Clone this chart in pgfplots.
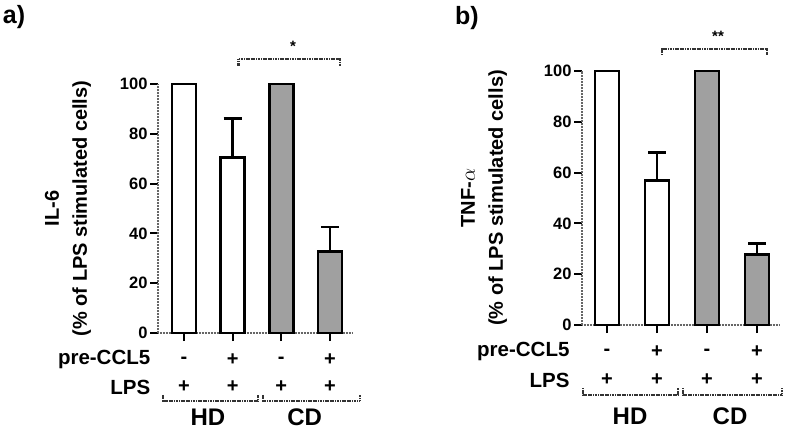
\documentclass[border=0pt]{standalone}
\usepackage{fontspec}
\setmainfont{Liberation Sans}
\usepackage{pgfplots}
\pgfplotsset{compat=1.18}
\definecolor{barg}{RGB}{160,160,160}
\tikzset{
  lbl/.style={font=\bfseries\fontsize{20.5}{20.5}\selectfont},
  sgn/.style={font=\bfseries\fontsize{20}{20}\selectfont},
  grp/.style={font=\bfseries\fontsize{24}{24}\selectfont},
}
\pgfplotsset{
  panel/.style={
    scale only axis, clip=false,
    axis lines=left, axis line style={-, line width=2.6pt, black!60, dash pattern=on 1pt off 0.5pt},
    ymin=0, ymax=100, ytick={0,20,...,100},
    xtick={1,2,3,4}, xticklabels={},
    tick align=outside, major tick length=8pt,
    tick style={line width=2pt, black},
    /pgf/number format/assume math mode=true,
    yticklabel style={font=\bfseries\fontsize{16.5}{16.5}\selectfont, xshift=1pt},
    ylabel style={font=\bfseries\fontsize{20}{28}\selectfont, align=center, anchor=center, rotate=0},
  },
  bar/.style={ybar, bar shift=0pt, bar width=24pt, draw=black, line width=2.8pt},
  err/.style={error bars/.cd, y dir=plus, y explicit, error mark=-,
    error bar style={line width=2.8pt, black},
    error mark options={rotate=90, line width=2.8pt, mark size=9pt, black}},
  brk/.style={line width=2.2pt, black!80, dash pattern=on 1.2pt off 0.5pt},
}
\begin{document}
\begin{tikzpicture}
\path[use as bounding box] (0,0) rectangle (787pt,-433pt);
\node[font=\bfseries\fontsize{25}{25}\selectfont] at (14pt,-17pt) {a)};
\node[font=\bfseries\fontsize{25}{25}\selectfont] at (467pt,-18pt) {b)};
% Panel a
\begin{axis}[panel, at={(158pt,-333pt)}, anchor=south west,
  width=195pt, height=249pt, xmin=0.466, xmax=4.473,
  ylabel={IL-6\\(\% of LPS stimulated cells)},
  ylabel style={at={(axis description cs:0,0.5)}, yshift=90pt}]
\addplot[bar, fill=white] coordinates {(1,100)};
\addplot[bar, fill=white, err] coordinates {(2,70.5) +- (0,15.5)};
\addplot[bar, fill=barg] coordinates {(3,100)};
\addplot[bar, fill=barg, err] coordinates {(4,32.8) +- (0,9.8)};
\addplot[brk] coordinates {(2.12,107.4) (2.12,110) (4.2,110) (4.2,107.4)};
\node[font=\bfseries\fontsize{15}{15}\selectfont] at (axis cs:3.24,115.3) {*};
\node[lbl, anchor=east] at (axis cs:0.38,-10.8) {pre-CCL5};
\node[lbl, anchor=east] at (axis cs:0.38,-21.7) {LPS};
\node[sgn] at (axis cs:1,-10.8) {-};
\node[sgn] at (axis cs:2,-10.8) {+};
\node[sgn] at (axis cs:3,-10.8) {-};
\node[sgn] at (axis cs:4,-10.8) {+};
\node[sgn] at (axis cs:1,-21.7) {+};
\node[sgn] at (axis cs:2,-21.7) {+};
\node[sgn] at (axis cs:3,-21.7) {+};
\node[sgn] at (axis cs:4,-21.7) {+};
\addplot[brk] coordinates {(0.57,-24.8) (0.57,-27.3) (2.52,-27.3) (2.52,-24.8)};
\addplot[brk] coordinates {(2.62,-24.8) (2.62,-27.3) (4.62,-27.3) (4.62,-24.8)};
\node[grp] at (axis cs:1.49,-33.7) {HD};
\node[grp] at (axis cs:3.48,-33.7) {CD};
\end{axis}
% Panel b
\begin{axis}[panel, at={(582pt,-325pt)}, anchor=south west,
  width=198pt, height=254pt, xmin=0.5, xmax=4.46,
  ylabel={TNF-$\alpha$\\(\% of LPS stimulated cells)},
  ylabel style={at={(axis description cs:0,0.5)}, yshift=98pt}]
\addplot[bar, fill=white] coordinates {(1,100)};
\addplot[bar, fill=white, err] coordinates {(2,57) +- (0,11)};
\addplot[bar, fill=barg] coordinates {(3,100)};
\addplot[bar, fill=barg, err] coordinates {(4,27.8) +- (0,4.4)};
\addplot[brk] coordinates {(2.1,106.3) (2.1,108.7) (4.2,108.7) (4.2,106.3)};
\node[font=\bfseries\fontsize{15}{15}\selectfont] at (axis cs:3.22,113.8) {**};
\node[lbl, anchor=east] at (axis cs:0.32,-10.6) {pre-CCL5};
\node[lbl, anchor=east] at (axis cs:0.32,-21.7) {LPS};
\node[sgn] at (axis cs:1,-10.6) {-};
\node[sgn] at (axis cs:2,-10.6) {+};
\node[sgn] at (axis cs:3,-10.6) {-};
\node[sgn] at (axis cs:4,-10.6) {+};
\node[sgn] at (axis cs:1,-21.7) {+};
\node[sgn] at (axis cs:2,-21.7) {+};
\node[sgn] at (axis cs:3,-21.7) {+};
\node[sgn] at (axis cs:4,-21.7) {+};
\addplot[brk] coordinates {(0.52,-24.8) (0.52,-27.6) (2.42,-27.6) (2.42,-24.8)};
\addplot[brk] coordinates {(2.52,-24.8) (2.52,-27.6) (4.5,-27.6) (4.5,-24.8)};
\node[grp] at (axis cs:1.46,-36) {HD};
\node[grp] at (axis cs:3.46,-36) {CD};
\end{axis}
\end{tikzpicture}
\end{document}
